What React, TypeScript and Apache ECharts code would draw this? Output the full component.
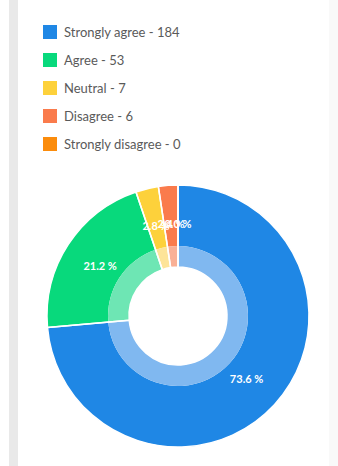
import React, { useEffect, useRef } from "react";
import * as echarts from "echarts";

const categories = ["Strongly agree", "Agree", "Neutral", "Disagree", "Strongly disagree"];
const values = [184, 53, 7, 6, 0];
const colors = ["#1f87e5", "#08d97c", "#fdd13b", "#fa7b4c", "#fb8c0c"];
const lightColors = ["#80b8f0", "#6ee6b4", "#fde498", "#f9b096", "#fbbd7a"];

export default function App() {
  const ref = useRef<HTMLDivElement>(null);
  useEffect(() => {
    if (!ref.current) return;
    const chart = echarts.init(ref.current, null, { renderer: "svg" });
    const mk = (cols: string[] | null) =>
      categories.map((name, i) => ({
        name,
        value: values[i],
        itemStyle: { color: cols ? cols[i] : "rgba(0,0,0,0)" },
      }));
    const common = {
      type: "pie",
      center: [178, 316],
      startAngle: 90,
      clockwise: true,
      avoidLabelOverlap: false,
      labelLine: { show: false },
    };
    chart.setOption({
      animation: false,
      backgroundColor: "#ffffff",
      color: colors,
      graphic: [
        { type: "rect", shape: { x: 9, y: 0, width: 9, height: 466 }, style: { fill: "#e9e9e9" }, silent: true },
        { type: "rect", shape: { x: 329, y: 0, width: 9, height: 466 }, style: { fill: "#f9f9f9" }, silent: true },
      ],
      legend: {
        orient: "vertical",
        left: 38,
        top: 20,
        itemWidth: 14,
        itemHeight: 14,
        itemGap: 14,
        icon: "rect",
        data: categories.map((name, i) => ({ name, itemStyle: { color: colors[i] } })),
        formatter: (name: string) => name + " - " + values[categories.indexOf(name)],
        textStyle: { fontFamily: "Lato", fontSize: 13, color: "#5a5a5a", padding: [0, 0, 0, 2] },
      },
      series: [
        {
          ...common,
          name: "main",
          radius: [70, 131],
          silent: true,
          data: mk(colors),
          itemStyle: { borderWidth: 0 },
          label: { show: false },
        },
        {
          ...common,
          name: "light",
          radius: [49, 70],
          silent: true,
          data: mk(lightColors),
          itemStyle: { borderWidth: 0 },
          label: { show: false },
        },
        {
          ...common,
          name: "labels",
          radius: [49, 131],
          data: mk(null),
          itemStyle: { borderColor: "#ffffff", borderWidth: 1.5 },
          labelLayout: { hideOverlap: false },
          label: {
            show: true,
            position: "inside",
            color: "#ffffff",
            fontFamily: "Lato",
            fontWeight: "bold",
            fontSize: 11,
            formatter: (p: any) => p.percent.toFixed(1) + " %",
          },
        },
      ],
    });
    return () => chart.dispose();
  }, []);
  return (
    <div
      ref={ref}
      style={{ position: "fixed", left: 0, top: 0, width: 338, height: 466 }}
    />
  );
}
